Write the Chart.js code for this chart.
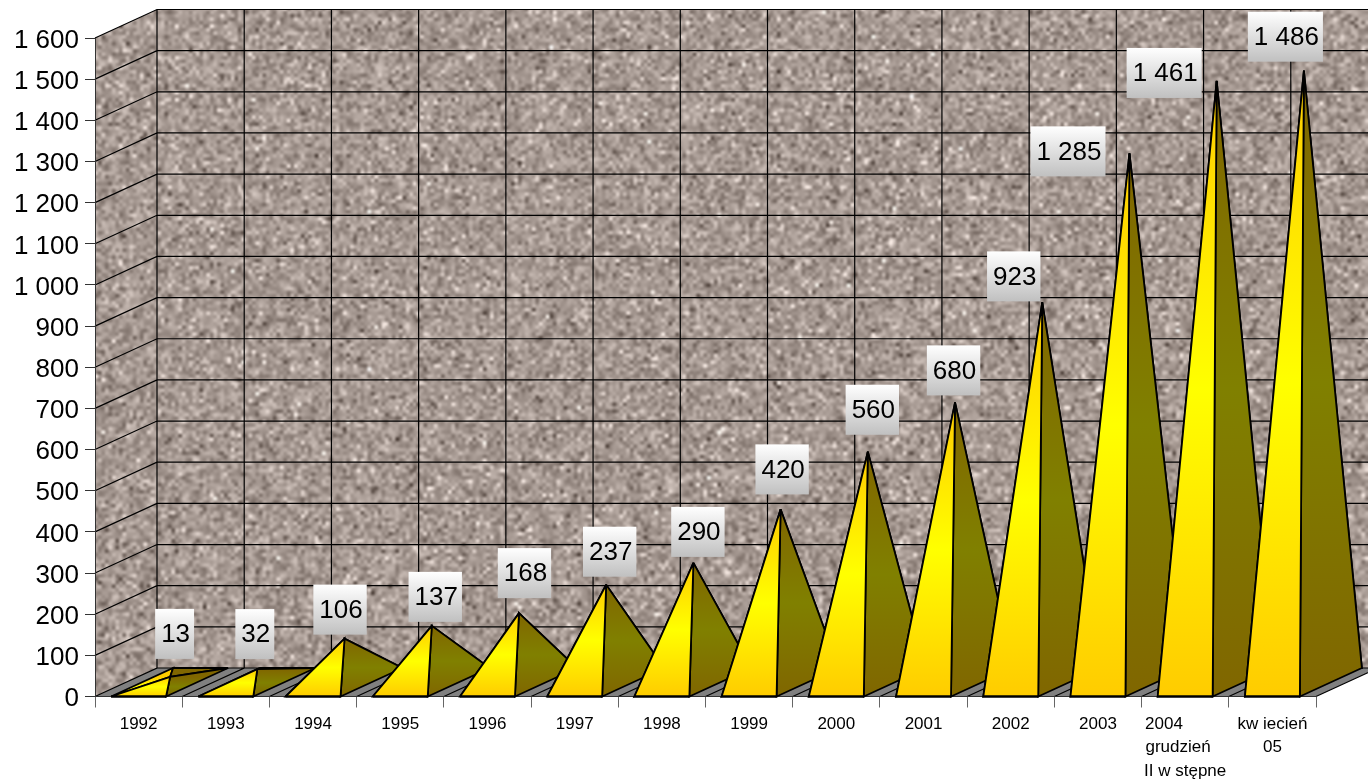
<!DOCTYPE html>
<html>
<head>
<meta charset="utf-8">
<title>Pyramid chart</title>
<script src="https://cdn.jsdelivr.net/npm/chart.js@4"></script>
<style>
  html, body { margin: 0; padding: 0; background: #fff; }
  canvas { display: block; }
</style>
</head>
<body>
<canvas id="chart" width="1368" height="782"></canvas>
<script>
const categories = [
  "1992", "1993", "1994", "1995", "1996", "1997", "1998", "1999",
  "2000", "2001", "2002", "2003",
  ["2004", "grudzień", "II w stępne"],
  ["kw iecień", "05"],
];
const seriesValues = [13, 32, 106, 137, 168, 237, 290, 420, 560, 680, 923, 1285, 1461, 1486];

// manual label placement in the original, relative to the pyramid tip
const labelShiftX = [5, -2, -4, 4, 6, 4, 5, 2, 5, -1, -28, -61, -52, -18];
const labelShiftY = [-43, -35, -29, -29, -40, -33, -31, -40, -42, -32, -26, -2, -8, -34];

// how far the back wall sits behind the axes
const depthX = 62;
const depthY = 28.5;

let wallTexture = null;

function formatThousands(value) {
  return String(value).replace(/\B(?=(\d{3})+$)/g, " ");
}

// grainy stone look for the walls: seeded noise scaled up smoothly
function makeTexture(width, height) {
  const scale = 3.5;
  let seed = 12345;
  function rnd() {
    seed = (seed * 1664525 + 1013904223) % 4294967296;
    return seed / 4294967296;
  }
  const small = document.createElement("canvas");
  small.width = Math.ceil(width / scale);
  small.height = Math.ceil(height / scale);
  const smallCtx = small.getContext("2d");
  const image = smallCtx.createImageData(small.width, small.height);
  for (let i = 0; i < image.data.length; i += 4) {
    let shade = (rnd() + rnd() + rnd() - 1.5) * 40;
    const speck = rnd();
    if (speck < 0.05) shade += 55;
    else if (speck < 0.09) shade -= 50;
    image.data[i] = 165 + shade;
    image.data[i + 1] = 152 + shade;
    image.data[i + 2] = 145 + shade;
    image.data[i + 3] = 255;
  }
  smallCtx.putImageData(image, 0, 0);

  const canvas = document.createElement("canvas");
  canvas.width = width;
  canvas.height = height;
  const ctx = canvas.getContext("2d");
  ctx.imageSmoothingEnabled = true;
  ctx.imageSmoothingQuality = "high";
  ctx.drawImage(small, 0, 0, small.width * scale, small.height * scale);
  return canvas;
}

function polygon(ctx, points) {
  ctx.beginPath();
  ctx.moveTo(points[0][0], points[0][1]);
  for (let i = 1; i < points.length; i++) {
    ctx.lineTo(points[i][0], points[i][1]);
  }
  ctx.closePath();
}

const wallsPlugin = {
  id: "walls",
  beforeDraw(chart) {
    const ctx = chart.ctx;
    const xScale = chart.scales.x;
    const yScale = chart.scales.y;
    const left = xScale.left;
    const right = xScale.right;
    const floorY = yScale.getPixelForValue(0);
    const topY = yScale.getPixelForValue(1600);
    const step = (right - left) / categories.length;

    if (!wallTexture) {
      wallTexture = makeTexture(chart.width, chart.height);
    }

    ctx.save();
    // side wall and back wall
    polygon(ctx, [
      [left, floorY],
      [left, topY],
      [left + depthX, topY - depthY],
      [right + depthX, topY - depthY],
      [right + depthX, floorY - depthY],
      [left + depthX, floorY - depthY],
    ]);
    ctx.save();
    ctx.clip();
    ctx.drawImage(wallTexture, 0, 0);
    ctx.restore();

    // floor
    polygon(ctx, [
      [left, floorY],
      [right, floorY],
      [right + depthX, floorY - depthY],
      [left + depthX, floorY - depthY],
    ]);
    ctx.fillStyle = "#808080";
    ctx.fill();

    ctx.strokeStyle = "#000";
    ctx.lineWidth = 1.2;
    ctx.beginPath();
    yScale.ticks.forEach((tick) => {
      const y = yScale.getPixelForValue(tick.value);
      ctx.moveTo(left, y);
      ctx.lineTo(left + depthX, y - depthY);
      ctx.lineTo(right + depthX, y - depthY);
    });
    for (let i = 0; i <= categories.length; i++) {
      const x = left + step * i;
      ctx.moveTo(x, floorY);
      ctx.lineTo(x + depthX, floorY - depthY);
      ctx.lineTo(x + depthX, topY - depthY);
    }
    ctx.stroke();
    ctx.restore();
  },
  afterDatasetsDraw(chart) {
    const ctx = chart.ctx;
    const yScale = chart.scales.y;
    const meta = chart.getDatasetMeta(0);
    const floorY = yScale.getPixelForValue(0);
    const tips = [];

    ctx.save();
    ctx.lineJoin = "miter";
    ctx.miterLimit = 3;
    meta.data.forEach((bar, i) => {
      const half = bar.width / 2;
      const frontLeft = [bar.x - half, floorY];
      const frontRight = [bar.x + half, floorY];
      const backLeft = [bar.x - half + depthX, floorY - depthY];
      const backRight = [bar.x + half + depthX, floorY - depthY];
      const tip = [bar.x + depthX / 2 + 0.5, yScale.getPixelForValue(seriesValues[i]) - depthY / 2];
      tips.push(tip);

      const yellow = ctx.createLinearGradient(0, floorY, 0, tip[1]);
      yellow.addColorStop(0, "#ffcc00");
      yellow.addColorStop(0.5, "#ffff00");
      yellow.addColorStop(1, "#ffcc00");
      const olive = ctx.createLinearGradient(0, floorY, 0, tip[1]);
      olive.addColorStop(0, "#806600");
      olive.addColorStop(0.5, "#808000");
      olive.addColorStop(1, "#806600");

      ctx.strokeStyle = "#000";
      ctx.lineWidth = 1.8;
      // back faces first, they only show on the very low pyramids
      polygon(ctx, [frontLeft, backLeft, tip]);
      ctx.fillStyle = yellow;
      ctx.fill();
      ctx.stroke();
      polygon(ctx, [backLeft, backRight, tip]);
      ctx.fillStyle = olive;
      ctx.fill();
      ctx.stroke();
      polygon(ctx, [frontRight, backRight, tip]);
      ctx.fillStyle = olive;
      ctx.fill();
      ctx.stroke();
      polygon(ctx, [frontLeft, frontRight, tip]);
      ctx.fillStyle = yellow;
      ctx.fill();
      ctx.stroke();

      ctx.lineWidth = 2;
      ctx.beginPath();
      ctx.moveTo(frontLeft[0], floorY);
      ctx.lineTo(frontRight[0], floorY);
      ctx.stroke();
    });

    // value labels
    ctx.font = "26px 'Liberation Sans', Arial, sans-serif";
    ctx.textAlign = "center";
    ctx.textBaseline = "middle";
    seriesValues.forEach((value, i) => {
      const text = formatThousands(value);
      const boxWidth = ctx.measureText(text).width + 10;
      const boxHeight = 50;
      const cx = tips[i][0] + labelShiftX[i] - 0.5;
      const cy = tips[i][1] + labelShiftY[i];
      const box = ctx.createLinearGradient(0, cy - boxHeight / 2, 0, cy + boxHeight / 2);
      box.addColorStop(0, "#ffffff");
      box.addColorStop(1, "#c0c0c0");
      ctx.fillStyle = box;
      ctx.fillRect(cx - boxWidth / 2, cy - boxHeight / 2, boxWidth, boxHeight);
      ctx.fillStyle = "#000";
      ctx.fillText(text, cx + 1, cy + 1);
    });
    ctx.restore();
  },
};

new Chart(document.getElementById("chart"), {
  type: "bar",
  data: {
    labels: categories,
    datasets: [
      {
        data: seriesValues,
        backgroundColor: "transparent",
        borderWidth: 0,
        barPercentage: 0.63,
        categoryPercentage: 1,
      },
    ],
  },
  plugins: [wallsPlugin],
  options: {
    responsive: false,
    animation: false,
    layout: { padding: { top: 38, right: 52, left: 0, bottom: 0 } },
    plugins: {
      legend: { display: false },
      title: { display: false },
      tooltip: { enabled: false },
    },
    scales: {
      x: {
        afterFit(scale) {
          scale.height = 85.5;
        },
        grid: {
          drawOnChartArea: false,
          tickLength: 11,
          tickColor: "#666",
          tickWidth: 1,
        },
        border: { color: "#333", width: 1 },
        ticks: {
          autoSkip: false,
          maxRotation: 0,
          minRotation: 0,
          padding: 5,
          color: "#000",
          font: { family: "'Liberation Sans', Arial, sans-serif", size: 17, lineHeight: 1.38 },
          // wrapped label is left aligned in the original, pad the short lines
          callback(value) {
            const label = categories[value];
            if (Array.isArray(label) && label.length === 3) {
              return [label[0] + "\u00a0".repeat(9), label[1] + "\u00a0".repeat(3), label[2]];
            }
            return label;
          },
        },
      },
      y: {
        min: 0,
        max: 1600,
        afterFit(scale) {
          scale.width = 95;
        },
        grid: {
          drawOnChartArea: false,
          tickLength: 10,
          tickColor: "#333",
          tickWidth: 1,
        },
        border: { color: "#333", width: 1 },
        ticks: {
          stepSize: 100,
          autoSkip: false,
          padding: 6,
          color: "#000",
          // small line height plus an empty first line nudges the text down a little
          font: { family: "'Liberation Sans', Arial, sans-serif", size: 26, lineHeight: 0.2 },
          callback(value) {
            return ["", formatThousands(value)];
          },
        },
      },
    },
  },
});
</script>
</body>
</html>
